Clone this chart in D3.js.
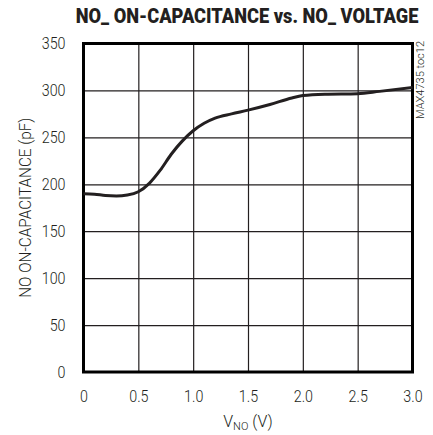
<!DOCTYPE html>
<html><head><meta charset="utf-8">
<script src="https://cdn.jsdelivr.net/npm/d3@7/dist/d3.min.js"></script>
<style>
body{margin:0;background:#fff;}
svg text{font-family:Roboto,"Liberation Sans",sans-serif;fill:#231f20;}
</style></head>
<body><svg id="c" width="433" height="435"></svg>
<script>
const voltage = [0, 0.1, 0.2, 0.3, 0.4, 0.5, 0.6, 0.7, 0.8, 0.9, 1.0, 1.1, 1.2, 1.35, 1.5, 1.7, 1.9, 2.0, 2.2, 2.5, 2.7, 3.0];
const capacitance = [190, 189.5, 188, 187.5, 188.5, 192, 201, 215, 232, 246, 257, 265, 270.5, 275, 279, 285, 292, 294.5, 296, 296.5, 299, 303];
const xTicks = [0, 0.5, 1.0, 1.5, 2.0, 2.5, 3.0];
const xTickLabels = ["0", "0.5", "1.0", "1.5", "2.0", "2.5", "3.0"];
const yTicks = [0, 50, 100, 150, 200, 250, 300, 350];
const title = "NO_ ON-CAPACITANCE vs. NO_ VOLTAGE";
const yTitle = "NO ON-CAPACITANCE (pF)";
const sideNote = "MAX4735 toc12";

const svg = d3.select("#c");
const L = 83.5, R = 412.5, T = 43.5, B = 372;
const x = d3.scaleLinear().domain([0, 3]).range([L, R]);
const y = d3.scaleLinear().domain([0, 350]).range([B, T]);

function condense(sel, f) {
  sel.each(function () {
    const w = this.getComputedTextLength();
    d3.select(this).attr("textLength", w * f).attr("lengthAdjust", "spacingAndGlyphs");
  });
}

const gx = svg.append("g").attr("transform", `translate(0,${B})`)
  .call(d3.axisBottom(x).tickValues(xTicks).tickSize(-(B - T)).tickFormat((d, i) => xTickLabels[i]));
gx.select(".domain").remove();
gx.selectAll("line").attr("stroke", "#231f20").attr("stroke-width", 1.2);
gx.selectAll("text").attr("y", 18).attr("font-size", 17).attr("font-weight", 300).attr("fill", "#231f20");
condense(gx.selectAll("text"), 0.84);

const gy = svg.append("g").attr("transform", `translate(${L},0)`)
  .call(d3.axisLeft(y).tickValues(yTicks).tickSize(-(R - L)));
gy.select(".domain").remove();
gy.selectAll("line").attr("stroke", "#231f20").attr("stroke-width", 1.2);
gy.selectAll("text").attr("x", -18).attr("font-size", 17).attr("font-weight", 300).attr("fill", "#231f20");
condense(gy.selectAll("text"), 0.84);

svg.append("rect").attr("x", L).attr("y", T).attr("width", R - L).attr("height", B - T)
  .attr("fill", "none").attr("stroke", "#000").attr("stroke-width", 3);

const line = d3.line().x((d, i) => x(voltage[i])).y(d => y(d)).curve(d3.curveMonotoneX);
svg.append("path").datum(capacitance).attr("d", line)
  .attr("fill", "none").attr("stroke", "#231f20").attr("stroke-width", 3).attr("stroke-linejoin", "round");

// title, horizontally condensed via transform
const tg = svg.append("g").attr("transform", "translate(247,23)");
const tt = tg.append("text").attr("x", 0).attr("y", 0).attr("text-anchor", "middle")
  .attr("font-size", 20).attr("font-weight", 900).attr("fill", "#000").text(title);
const tw = tt.node().getComputedTextLength();
tg.attr("transform", `translate(247,23) scale(${343 / tw},1)`);

const xt = svg.append("text").attr("x", 248).attr("y", 427).attr("text-anchor", "middle").attr("font-size", 16).attr("font-weight", 300);
xt.append("tspan").text("V");
xt.append("tspan").attr("font-size", 11).attr("dy", 3).text("NO");
xt.append("tspan").attr("dy", -3).text(" (V)");

svg.append("text").attr("transform", `translate(31,${(T + B) / 2}) rotate(-90)`).attr("text-anchor", "middle")
  .attr("font-size", 16.5).attr("font-weight", 300).attr("textLength", 180).attr("lengthAdjust", "spacingAndGlyphs").text(yTitle);

svg.append("text").attr("transform", `translate(424,80) rotate(-90)`).attr("text-anchor", "middle")
  .attr("font-size", 10.5).attr("font-weight", 300).attr("textLength", 78).attr("lengthAdjust", "spacingAndGlyphs").text(sideNote);
</script></body></html>
